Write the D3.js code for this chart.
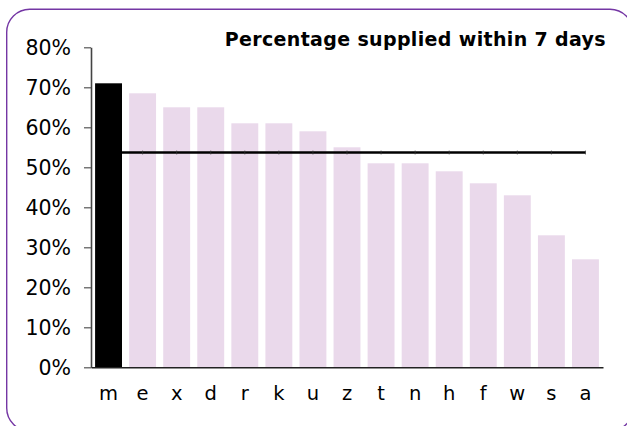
<!DOCTYPE html>
<html>
<head>
<meta charset="utf-8">
<script src="https://cdn.jsdelivr.net/npm/d3@7"></script>
<style>
  html, body { margin: 0; padding: 0; background: #fff; }
  svg { display: block; }
  .axis text { font-family: Verdana, "DejaVu Sans", sans-serif; fill: #000; }
</style>
</head>
<body>
<svg id="chart" width="627" height="426"></svg>
<script>
const categories = ["m","e","x","d","r","k","u","z","t","n","h","f","w","s","a"];
const values = [71, 68.5, 65, 65, 61, 61, 59, 55, 51, 51, 49, 46, 43, 33, 27];
const averageValue = 53.7;
const highlighted = ["m"];
const yTicks = [0, 10, 20, 30, 40, 50, 60, 70, 80];
const titleText = "Percentage supplied within 7 days";

const svg = d3.select("#chart");

// frame
svg.append("rect")
  .attr("x", 6.7).attr("y", 9.3)
  .attr("width", 626.3).attr("height", 421.7)
  .attr("rx", 23).attr("ry", 23)
  .attr("fill", "#fff")
  .attr("stroke", "#7436A4")
  .attr("stroke-width", 1.4);

const x = d3.scaleBand()
  .domain(categories)
  .range([91, 603])
  .paddingInner(0.21)
  .paddingOuter(0.12);

const y = d3.scaleLinear()
  .domain([0, 80])
  .range([367.3, 47.3]);

// bars
svg.append("g").selectAll("rect")
  .data(categories)
  .join("rect")
  .attr("x", d => x(d))
  .attr("width", x.bandwidth())
  .attr("y", (d, i) => y(values[i]))
  .attr("height", (d, i) => y(0) - y(values[i]))
  .attr("fill", d => highlighted.includes(d) ? "#000" : "#EAD9EB");

// average line
const lineData = categories.map(c => [x(c) + x.bandwidth() / 2, y(averageValue)]);
svg.append("path")
  .attr("d", d3.line()(lineData))
  .attr("fill", "none")
  .attr("stroke", "#000")
  .attr("stroke-width", 2.3);
svg.append("g").selectAll("line")
  .data(lineData.slice(1))
  .join("line")
  .attr("x1", d => d[0]).attr("x2", d => d[0])
  .attr("y1", d => d[1] - 1.9).attr("y2", d => d[1] + 1.9)
  .attr("stroke", "#333")
  .attr("stroke-width", 0.8);

// y axis
const yAxis = svg.append("g")
  .attr("class", "axis")
  .attr("transform", "translate(91,0)")
  .call(d3.axisLeft(y).tickValues(yTicks).tickFormat(d => d + "%").tickSize(7).tickPadding(13).tickSizeOuter(0));
yAxis.selectAll("text").attr("font-size", 20.5).attr("dy", "0.36em");
yAxis.select(".domain").attr("stroke", "#444").attr("stroke-width", 1.6);
yAxis.selectAll(".tick line").attr("stroke", "#555").attr("stroke-width", 1.2);

// x axis
const xAxis = svg.append("g")
  .attr("class", "axis")
  .attr("transform", "translate(0,367.3)")
  .call(d3.axisBottom(x).tickSize(0).tickSizeOuter(0).tickPadding(0));
xAxis.selectAll("text").attr("font-size", 19.5).attr("y", 0).attr("dy", 0).attr("transform", "translate(0,32.7)");
xAxis.select(".domain").attr("stroke", "#222").attr("stroke-width", 1.5);

// title
svg.append("text")
  .attr("x", 606)
  .attr("y", 45.7)
  .attr("text-anchor", "end")
  .attr("font-family", "Verdana, 'DejaVu Sans', sans-serif")
  .attr("font-weight", "bold")
  .attr("font-size", 19)
  .attr("letter-spacing", 0.35)
  .text(titleText);
</script>
</body>
</html>
